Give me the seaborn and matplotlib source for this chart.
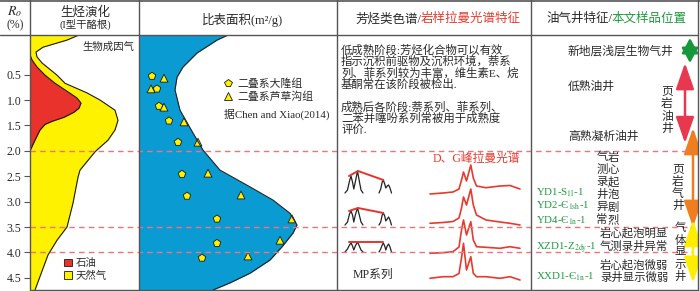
import matplotlib
matplotlib.use("Agg")
import matplotlib.pyplot as plt
from matplotlib.patches import Patch, FancyArrowPatch
from matplotlib.lines import Line2D
import pandas as pd
import seaborn as sns

# ---------------- values ----------------
ro_ticks = [0.5, 1.0, 1.5, 2.0, 2.5, 3.0, 3.5, 4.0, 4.5]
ro_limits = (4.74, -0.28)
stage_lines = [2.0, 3.5, 4.0]

# hydrocarbon generation (type I kerogen)
gas_ro = [-0.28, -0.18, -0.04, 0.055, 0.15, 0.27, 0.35, 0.51, 0.67, 0.86, 1.0, 1.2,
          1.4, 1.59, 1.79, 2.02, 2.38, 2.52, 3.03, 3.5, 3.76, 4.05, 4.74]
gas_x = [79, 67, 43, 36, 37, 42, 47, 57, 65, 87, 100, 115,
         118, 115, 108, 95, 80, 78, 73, 67, 57, 48, 35]
oil_ro = [0.11, 0.21, 0.35, 0.51, 0.67, 0.84, 0.96, 1.06, 1.16, 1.24, 1.34, 1.42,
          1.48, 1.59, 1.79, 2.0]
oil_x = [30, 32, 37, 45, 55, 68, 77, 81, 79, 74, 64, 52, 45, 40, 35, 30]

# specific surface area envelope
ssa_ro = [-0.28, -0.18, 0.075, 0.35, 0.55, 0.8, 1.2, 1.65, 1.985, 2.38, 2.71, 2.97,
          3.23, 3.46, 3.62, 3.89, 4.15, 4.41, 4.6, 4.74]
ssa_x = [228, 217, 197, 183, 177, 175, 180, 193, 203, 220, 250, 273,
         290, 297, 293, 282, 270, 250, 230, 213]

dalong_ro = [0.53, 0.78, 1.12, 1.41, 1.83, 2.46, 2.89, 3.34, 3.82, 4.11]
dalong_x = [152, 157, 159, 169, 178, 182, 187, 217, 217, 202]
lucaogou_ro = [0.57, 0.78, 1.14, 1.43, 1.83, 2.44, 2.87, 3.34, 3.76, 4.07]
lucaogou_x = [164, 151, 164, 184, 198, 208, 241, 292, 280, 248]

# Raman spectra sketches (column 3)
raman_x = [430, 443, 453, 459, 461.5, 463.5, 466.5, 470.8, 473.3, 476.5, 486, 500, 510, 520]
raman_1 = [194, 193, 192, 189, 180, 172, 181, 165, 178, 186, 187.7, 186, 185.5, 189]
raman_2 = [223.3, 222.5, 221.5, 218, 208, 197, 205, 189, 205, 215, 220, 222, 223.3, 225]
raman_3 = [253.3, 252.7, 251.7, 247, 230, 220, 235, 221.7, 240, 246.7, 247.3, 248.3, 246.7, 248.3]
raman_4 = [278.3, 276.7, 276.7, 273.5, 258, 243.3, 270, 256.7, 273.3, 276.7, 276.7, 278.3, 276.7, 280]

# MP series sketches
mp_left_x = [345, 347.5, 349.5, 351, 352.5, 353.8, 355.3, 357.5, 359.3, 361, 363]
mp_right_x = [379, 380.7, 382.2, 383.3, 384.7, 385.8, 387.2, 388.6, 390, 391.5]
mp_left = [[193, 190, 181, 176, 182, 189, 182, 171, 181, 190, 193],
           [225, 222, 214, 211, 215, 222, 215, 208, 215, 222, 225],
           [252, 249, 245, 243, 246, 250, 246, 242, 246, 250, 252]]
mp_right = [[193, 189, 182, 180, 184, 188, 186, 185, 188, 193],
            [225, 222, 215, 213, 216, 221, 219, 217, 220, 225],
            [252, 249, 245, 243, 246, 250, 246, 244, 247, 252]]
mp_link_x = [349, 358, 383.3]
mp_link = [[176, 171, 180], [211, 208, 213], [242, 242, 242]]

# well type ranges (Ro) shown as arrows
well_ranges = [(-0.22, 0.27), (0.27, 1.85), (1.55, 3.5), (3.36, 4.6)]
well_x = [690, 685, 693, 693]
well_colors = ["#16973c", "#e8384f", "#f07d1e", "#ffee00"]

sample_labels = ["YD1-S$_{\\mathrm{1l}}$-1", "YD2-Є$_{\\mathrm{1sh}}$-1", "YD4-Є$_{\\mathrm{1n}}$-1",
                 "XZD1-Z$_{\\mathrm{2dy}}$-1", "XXD1-Є$_{\\mathrm{1n}}$-1"]

YELLOW = "#fff200"
RED = "#e8322b"
BLUE = "#0a9bd3"
DASH = "#f0737c"
GREEN = "#1e9a3e"
LINE = "#555555"
TXT = "#2a2a2a"

sns.set_theme(style="white")
plt.rcParams["font.family"] = ["Liberation Serif", "Noto Sans CJK SC", "DejaVu Sans"]
plt.rcParams["mathtext.fontset"] = "stix"

W, H = 700, 291
fig = plt.figure(figsize=(7, 2.91), dpi=100)
fig.patch.set_facecolor("white")


def box(x0, y0, x1, y1):
    return [x0 / W, 1 - y1 / H, (x1 - x0) / W, (y1 - y0) / H]


def bare(ax):
    ax.set_facecolor("none")
    for s in ax.spines.values():
        s.set_visible(False)
    ax.set_xticks([])
    ax.set_yticks([])
    ax.set_xlabel("")
    ax.set_ylabel("")


# ---- column 1: hydrocarbon generation
ax1 = fig.add_axes(box(30, 35, 139, 290))
bare(ax1)
ax1.set_xlim(30, 139)
ax1.set_ylim(ro_limits)
x0 = ax1.get_xlim()[0]
ax1.fill_betweenx(gas_ro, x0, gas_x, color=YELLOW, lw=0)
ax1.plot(gas_x, gas_ro, color="k", lw=0.8)
ax1.fill_betweenx(oil_ro, x0, oil_x, color=RED, lw=0)
ax1.plot(oil_x, oil_ro, color="k", lw=0.8)
ax1.set_yticks(ro_ticks)
ax1.set_yticklabels([f"{v:.1f}" for v in ro_ticks])
ax1.tick_params(axis="y", left=True, direction="out", length=4, width=0.8,
                color=LINE, labelsize=8.5, labelcolor=TXT, pad=2)
ax1.legend(handles=[Patch(fc=RED, ec="k", lw=0.6, label="石油"),
                    Patch(fc=YELLOW, ec="k", lw=0.6, label="天然气")],
           loc="upper left", bbox_to_anchor=(0.31, 0.125), frameon=False,
           fontsize=7.5, handlelength=0.8, handleheight=0.8, handletextpad=0.3,
           labelspacing=0.25, borderpad=0, borderaxespad=0, labelcolor=TXT)

# ---- column 2: specific surface area
ax2 = fig.add_axes(box(139, 35, 337, 290))
x0 = 139
ax2.fill_betweenx(ssa_ro, x0, ssa_x, color=BLUE, lw=0)
ax2.plot(ssa_x, ssa_ro, color="#222222", lw=0.8)
pts = pd.DataFrame({
    "ro": dalong_ro + lucaogou_ro,
    "x": dalong_x + lucaogou_x,
    "group": ["二叠系大隆组"] * len(dalong_ro) + ["二叠系芦草沟组"] * len(lucaogou_ro),
})
sns.scatterplot(data=pts, x="x", y="ro", style="group",
                markers={"二叠系大隆组": "p", "二叠系芦草沟组": "^"},
                color=YELLOW, edgecolor="k", linewidth=0.6, s=32, ax=ax2, legend=False)
bare(ax2)
ax2.set_xlim(139, 337)
ax2.set_ylim(ro_limits)
ax2.legend(handles=[Line2D([], [], ls="", marker="p", ms=6, mfc=YELLOW, mec="k", mew=0.6,
                           label="二叠系大隆组"),
                    Line2D([], [], ls="", marker="^", ms=6, mfc=YELLOW, mec="k", mew=0.6,
                           label="二叠系芦草沟组")],
           loc="upper left", bbox_to_anchor=(0.43, 0.83), frameon=False, fontsize=7.8,
           handlelength=0.8, handletextpad=0.4, labelspacing=0.25, borderpad=0,
           borderaxespad=0, labelcolor=TXT)

# ---- column 3: sketches
ax3 = fig.add_axes(box(337, 35, 531, 290))
bare(ax3)
ax3.set_xlim(337, 531)
ax3.set_ylim(290, 35)
for ys in [raman_1, raman_2, raman_3, raman_4]:
    ax3.plot(raman_x, ys, color="#e8392e", lw=1.2)
for yl, yr, yk in zip(mp_left, mp_right, mp_link):
    ax3.plot(mp_left_x, yl, color="#222222", lw=0.9)
    ax3.plot(mp_right_x, yr, color="#222222", lw=0.9)
    ax3.plot(mp_link_x, yk, color="#e8322b", lw=1.4)

# ---- column 4: well type arrows
ax4 = fig.add_axes(box(531, 35, 698, 290))
bare(ax4)
ax4.set_xlim(531, 698)
ax4.set_ylim(ro_limits)
for i, ((r0, r1), xa, c) in enumerate(zip(well_ranges, well_x, well_colors)):
    if i == 0:
        style = "<|-|>,head_length=0.65,head_width=0.36"
    else:
        style = "<|-|>,head_length=1.15,head_width=0.4"
    ax4.add_patch(FancyArrowPatch((xa, r0), (xa, r1), arrowstyle=style, mutation_scale=14,
                                  color=c, lw=1.8, shrinkA=0, shrinkB=0))

# ---- maturity stage dashed lines across the table
axd = fig.add_axes(box(30, 35, 692, 290))
bare(axd)
axd.set_xlim(0, 1)
axd.set_ylim(ro_limits)
for r in stage_lines:
    axd.axhline(r, color=DASH, lw=1.0, dashes=(4, 3))

# ---- frame and text
bg = fig.add_axes([0, 0, 1, 1])
bare(bg)
bg.set_xlim(0, W)
bg.set_ylim(H, 0)
for xc in [30, 139, 337, 531, 698]:
    bg.plot([xc, xc], [0, 290], color=LINE, lw=1.0)
bg.plot([0, 700], [0.8, 0.8], color=LINE, lw=1.2)
bg.plot([0, 698], [35, 35], color=LINE, lw=1.0)
bg.plot([30, 698], [290, 290], color=LINE, lw=1.0)


def t(x, y, s, size=8, color=TXT, ha="left", **kw):
    bg.text(x, y, s, fontsize=size, color=color, ha=ha, va="center", **kw)


t(15, 12, "$R_o$", 10, ha="center")
t(15, 25, "(%)", 8.5, ha="center")
t(85, 12, "生烃演化", 9, ha="center")
t(85, 24, "(I型干酪根)", 7.5, ha="center")
t(82, 47, "生物成因气", 7.5)
t(242, 20, "比表面积(m²/g)", 9, ha="center")
t(224, 114, "据Chen and Xiao(2014)", 7.8)
t(421, 19, "芳烃类色谱/", 9, ha="right")
t(421, 19, "岩样拉曼光谱特征", 9, color="#e8392e")
t(612, 19, "油气井特征/", 9, ha="right")
t(612, 19, "本文样品位置", 9, color=GREEN)

para = ["低成熟阶段:芳烃化合物可以有效", "指示沉积前驱物及沉积环境，萘系",
        "列、菲系列较为丰富，维生素E、烷", "基酮常在该阶段被检出."]
for i, line in enumerate(para):
    t(341, 50 + i * 11.3, line, 8.2)
para2 = ["成熟后各阶段:萘系列、菲系列、", "二苯并噻吩系列常被用于成熟度", "评价."]
for i, line in enumerate(para2):
    t(341, 107 + i * 11.2, line, 8.2)
t(476, 159, "D、G峰拉曼光谱", 8.5, color="#e8392e", ha="center")
t(353, 275, "MP系列", 8.5)

t(568, 52, "新地层浅层生物气井", 8.5)
t(568, 87, "低熟油井", 8.5)
t(568, 137, "高熟凝析油井", 8.5)


def vert(x, y0, s, step, size=8.5):
    for i, ch in enumerate(s):
        t(x, y0 + i * step, ch, size, ha="center")


vert(667, 92, "页岩油井", 12.4)
vert(678, 170, "页岩气井", 11.8)
vert(680, 228, "气体显示井", 12.2, 8.2)
vert(613, 157, "岩心起泡剧烈", 12.6, 8.2)
vert(602, 157, "气测录井异常", 12.6, 8.2)
t(600, 233, "岩心起泡明显", 8.2)
t(600, 246, "气测录井异常", 8.2)
t(600, 265, "岩心起泡微弱", 8.2)
t(600, 277, "录井显示微弱", 8.2)

for lab, y in zip(sample_labels, [193, 206, 221, 248, 277]):
    t(536, y, lab, 7.8, color=GREEN)

fig.savefig("out.png", dpi=100, facecolor="white")
